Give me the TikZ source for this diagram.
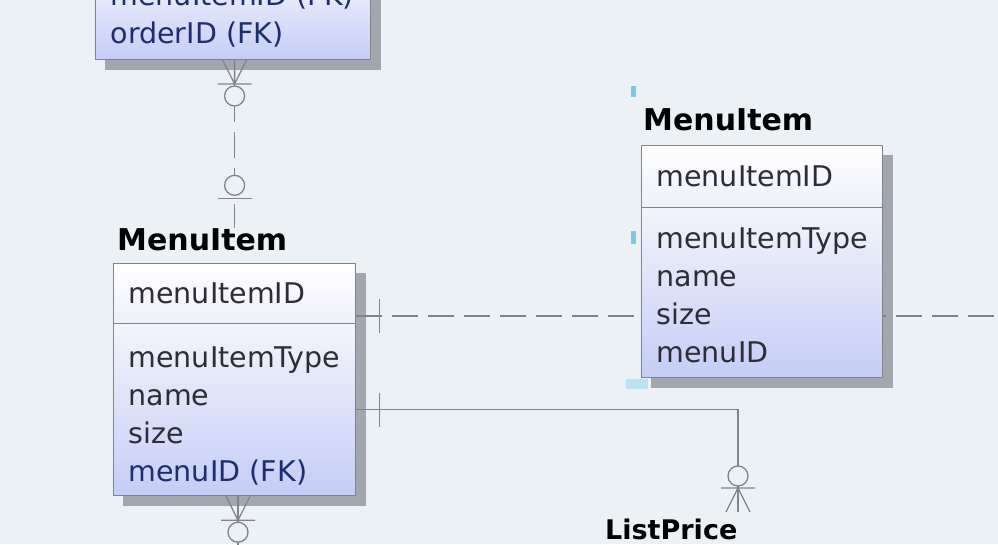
\documentclass[tikz,border=0pt]{standalone}
\usepackage{fontspec}
\setmainfont{DejaVu Sans}
\usetikzlibrary{positioning,backgrounds}

\definecolor{pagebg}{RGB}{236,241,246}
\definecolor{boxline}{RGB}{128,132,140}
\definecolor{boxshadow}{RGB}{162,166,174}
\definecolor{keytop}{RGB}{255,255,255}
\definecolor{keybot}{RGB}{238,240,250}
\definecolor{attrtop}{RGB}{243,244,252}
\definecolor{attrbot}{RGB}{196,205,245}
\definecolor{relline}{RGB}{128,132,138}
\definecolor{txt}{RGB}{45,45,52}
\definecolor{fktxt}{RGB}{30,45,110}
\definecolor{handle}{RGB}{120,200,230}

\tikzset{
  keypart/.style={draw=boxline, line width=1.2pt, anchor=north west, top color=keytop, bottom color=keybot,
    inner xsep=15pt, align=left, text=txt, font=\fontsize{28.5}{38}\selectfont},
  attrpart/.style={draw=boxline, line width=1.2pt, anchor=north west, top color=attrtop, bottom color=attrbot,
    inner xsep=15pt, align=left, text=txt, font=\fontsize{28.5}{38}\selectfont},
  entitle/.style={anchor=south west, inner sep=0pt, font=\fontsize{30}{34}\bfseries\selectfont, text=black},
  rel/.style={draw=relline, line width=1.3pt},
  nonident/.style={rel, dash pattern=on 26pt off 10pt},
  % symbols: entity at the origin, the line leaves along +x
  one/.pic={\draw[rel] (23,-17) -- (23,17);},
  zeroone/.pic={\draw[rel] (24,-17) -- (24,17); \draw[rel, fill=pagebg] (37,0) circle (10);},
  zeromany/.pic={\draw[rel] (0,-12) -- (24,0) (0,0) -- (24,0) (0,12) -- (24,0) (24,-17) -- (24,17);
    \draw[rel, fill=pagebg] (36,0) circle (10);}
}

\begin{document}
\begin{tikzpicture}[x=1pt, y=-1pt]
  \useasboundingbox (0,0) rectangle (998,544);
  \clip (0,0) rectangle (998,544);

  % OrderLine (cut off at the top)
  \node (olAttr) [attrpart, anchor=south west, text width=245pt, inner ysep=12pt, text=fktxt]
    at (95,60) {menuItemID (FK)\\orderID (FK)};

  % left MenuItem
  \node (miTitle) [entitle] at (117,251) {MenuItem};
  \node (miKey) [keypart, text width=212pt, minimum height=60pt] at (113,263) {menuItemID};
  \node (miAttr) [attrpart, text width=212pt, minimum height=172pt] at (113,323)
    {\rule{0pt}{33pt}menuItemType\\name\\size\\\textcolor{fktxt}{menuID (FK)}};

  % right MenuItem
  \node (mi2Title) [entitle] at (643,131) {MenuItem};
  \node (mi2Key) [keypart, text width=211pt, minimum height=62pt] at (641,145) {menuItemID};
  \node (mi2Attr) [attrpart, text width=211pt, minimum height=170pt] at (641,207)
    {\rule{0pt}{27pt}menuItemType\\name\\size\\menuID};

  % ListPrice (only its name shows)
  \node (lpTitle) [entitle, font=\fontsize{27}{30}\bfseries\selectfont] at (605,540) {ListPrice};
  \coordinate (lpTop) at (738,512);
  \coordinate (offRight) at (998,316);
  \coordinate (offDown) at (238,560);

  \begin{scope}[on background layer]
    \fill[pagebg] (0,0) rectangle (998,544);
    \fill[boxshadow] ([shift={(10pt,-10pt)}]olAttr.north west) rectangle ([shift={(10pt,-10pt)}]olAttr.south east);
    \fill[boxshadow] ([shift={(10pt,-10pt)}]miKey.north west) rectangle ([shift={(10pt,-10pt)}]miAttr.south east);
    \fill[boxshadow] ([shift={(10pt,-10pt)}]mi2Key.north west) rectangle ([shift={(10pt,-10pt)}]mi2Attr.south east);

    \draw[nonident] (olAttr.south -| miKey.north) -- (miTitle.north -| miKey.north);
    \draw[nonident] (miAttr.north east |- offRight) -- (offRight);
    \draw[rel] (miAttr.east) -| (lpTop);
    \draw[rel] (miAttr.south -| offDown) -- (offDown);
  \end{scope}

  % relationship ends
  \pic[rotate=-90] at (olAttr.south -| miKey.north) {zeromany};
  \pic[rotate=90] at ([yshift=6pt]miTitle.north -| miKey.north) {zeroone};
  \pic at (miAttr.north east |- offRight) {one};
  \pic at (miAttr.east) {one};
  \pic[rotate=90] at (lpTop) {zeromany};
  \pic[rotate=-90] at (miAttr.south -| offDown) {zeromany};

  % selection handles
  \fill[handle] (631,86) rectangle (636,97);
  \fill[handle] (631,231) rectangle (636,244);
  \fill[handle!50] (626,379) rectangle (648,389);
\end{tikzpicture}
\end{document}
